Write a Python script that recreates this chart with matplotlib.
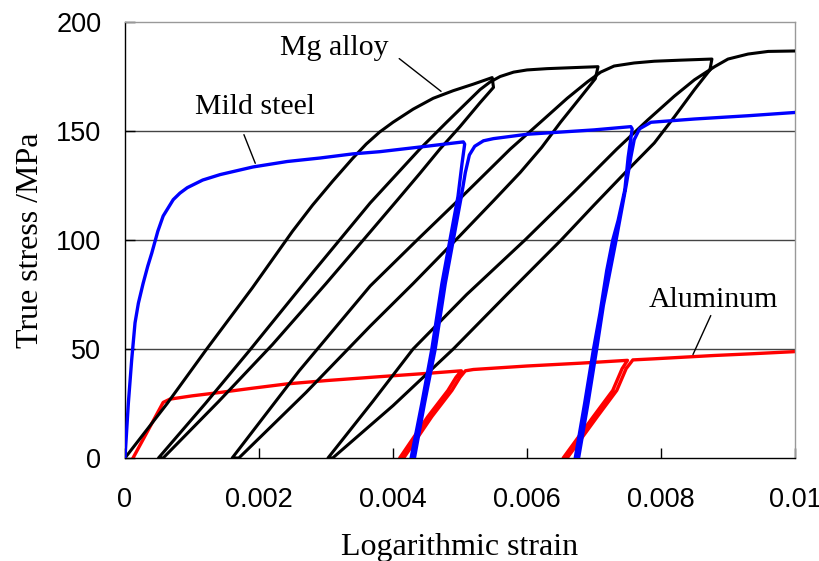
import matplotlib.pyplot as plt

# Mild steel: first loading, unload/reload at ~0.005 and ~0.0075
steel_strain = [0, 0.00005, 0.0001, 0.00015, 0.0002, 0.00027, 0.00034, 0.0004, 0.00049, 0.00057,
                0.00065, 0.00072, 0.00082, 0.00093, 0.00116, 0.00142, 0.00191, 0.00242, 0.00291,
                0.0034, 0.0038, 0.0045, 0.00505,
                0.00507, 0.00503, 0.00497, 0.00485, 0.00473, 0.00458, 0.00443, 0.00427,
                0.00432, 0.00447, 0.00463, 0.00478, 0.0049, 0.00502, 0.00508, 0.00514, 0.00522,
                0.00535, 0.0055, 0.0057, 0.006, 0.0065, 0.007, 0.00755,
                0.00757, 0.00751, 0.00746, 0.00736, 0.00728, 0.00719, 0.00709, 0.00699, 0.00686, 0.00672,
                0.00677, 0.00691, 0.00704, 0.00714, 0.00733, 0.00748, 0.00755, 0.0076, 0.00768,
                0.00785, 0.0085, 0.0093, 0.01]
steel_stress = [0, 25, 45, 62, 71, 80, 88, 94, 104, 111,
                115, 118.5, 121.5, 124, 127.5, 130, 133.5, 136, 137.6,
                139.5, 140.5, 143, 145,
                144, 135, 120, 100, 80, 50, 25, 0,
                0, 25, 50, 80, 100, 120, 131, 139, 143,
                145.5, 146.5, 147.3, 148.5, 149.5, 150.5, 152,
                151, 138, 123, 109, 100, 86, 66.5, 49.5, 25, 0,
                0, 25, 50, 70, 100, 125, 138, 146, 151,
                154, 155.5, 157, 158.5]

# Aluminum: first loading, unload/reload at ~0.005 and ~0.0075
al_strain = [0.00012, 0.00035, 0.00057, 0.00067, 0.001, 0.0014, 0.0019, 0.00242, 0.003,
             0.0038, 0.0045, 0.00502,
             0.00494, 0.00482, 0.00452, 0.0041,
             0.00416, 0.00458, 0.00488, 0.005, 0.00508, 0.0052, 0.006, 0.0068, 0.0075,
             0.00742, 0.00728, 0.00699, 0.00654,
             0.0066, 0.00705, 0.00734, 0.00748, 0.00758, 0.0079, 0.00878, 0.00935, 0.01]
al_stress = [0, 13, 25.5, 27, 28.5, 30, 32, 34, 35.5,
             37.3, 38.8, 40,
             37, 31, 19, 0,
             0, 19, 31, 37, 40, 40.6, 42.2, 43.5, 44.8,
             41, 31, 19, 0,
             0, 19, 31, 41, 45, 45.5, 47, 47.8, 48.8]

# Mg alloy: loading with three unload/reload loops
mg_strain = [0, 0.00063, 0.00122, 0.0019, 0.0025, 0.0028, 0.0031, 0.0034, 0.0036, 0.0038,
             0.004, 0.0043, 0.0046, 0.0049, 0.0052, 0.00548,
             0.0055, 0.0053, 0.005, 0.0047, 0.0044, 0.00407, 0.00366, 0.003, 0.0022, 0.0014, 0.00057,
             0.0005, 0.0012, 0.00185, 0.0028, 0.00366, 0.0044, 0.0048, 0.0051, 0.0053, 0.00545,
             0.0056, 0.0058, 0.006, 0.0063, 0.0068, 0.00706,
             0.00702, 0.0068, 0.0065, 0.00622, 0.0059, 0.0055, 0.005, 0.0043, 0.00366, 0.0027, 0.0017,
             0.0016, 0.0026, 0.00366, 0.00436, 0.005, 0.00575, 0.0062, 0.0066, 0.0069, 0.0071,
             0.0073, 0.0076, 0.0079, 0.0083, 0.00876,
             0.00873, 0.0085, 0.0082, 0.0079, 0.0075, 0.007, 0.00651, 0.0057, 0.0049, 0.004, 0.0031,
             0.00303, 0.0037, 0.0043, 0.0051, 0.00597, 0.0067, 0.00734, 0.0078, 0.0082, 0.0085,
             0.0088, 0.009, 0.0093, 0.0096, 0.01]
mg_stress = [0, 25, 50, 78, 104, 116, 127, 137.5, 144, 149.5,
             154, 160, 165, 168.5, 171.5, 174.5,
             170, 163, 152, 141.7, 130.5, 118.5, 103.7, 80, 52, 26, 0,
             0, 25, 49, 85, 117, 141.7, 154, 163, 169, 172.5,
             175, 177, 178, 178.6, 179.2, 179.5,
             174, 165.5, 154, 142.5, 131, 118, 102, 80, 60.5, 30, 0,
             0, 40, 78.9, 100, 119, 141.7, 154, 165, 172.5, 177,
             179.8, 181.2, 182, 182.5, 183,
             178, 169, 156.5, 144.5, 132, 116, 100, 75, 50, 24, 0,
             0, 26, 50, 75, 100, 122, 141.7, 155, 166, 173.5,
             179.5, 183, 185.3, 186.5, 186.7]

x_ticks = [0, 0.002, 0.004, 0.006, 0.008, 0.01]
x_labels = ['0', '0.002', '0.004', '0.006', '0.008', '0.01']
y_ticks = [0, 50, 100, 150, 200]

SERIF = 'Liberation Serif'
SANS = 'Liberation Sans'


def main():
    fig = plt.figure(figsize=(8.19, 5.61), dpi=100)
    ax = fig.add_axes([0.1526, 0.1836, 0.8181, 0.7772])

    for v in y_ticks[1:-1]:
        ax.axhline(v, color='#444444', lw=1, zorder=1)

    ax.plot(mg_strain, mg_stress, color='black', lw=2.2, zorder=3)
    ax.plot(steel_strain, steel_stress, color='blue', lw=2.4, zorder=4)
    ax.plot(al_strain, al_stress, color='red', lw=2.4, zorder=2)

    ax.set_xlim(0, 0.01)
    ax.set_ylim(0, 200)
    ax.set_xticks(x_ticks)
    ax.set_xticklabels(x_labels, fontname=SANS, fontsize=19.5)
    ax.set_yticks(y_ticks)
    ax.set_yticklabels([str(v) for v in y_ticks], fontname=SANS, fontsize=19.5)
    ax.tick_params(axis='x', direction='in', length=7, width=1, pad=21)
    ax.tick_params(axis='y', direction='in', length=7, width=1, pad=17)

    for side in ['top', 'right']:
        ax.spines[side].set_color('#999999')
    for side in ['left', 'bottom']:
        ax.spines[side].set_color('black')
    for s in ax.spines.values():
        s.set_linewidth(1)

    ax.set_xlabel('Logarithmic strain', fontname=SERIF, fontsize=23)
    ax.xaxis.set_label_coords(0.5, -0.172)
    ax.set_ylabel('True stress /MPa', fontname=SERIF, fontsize=23)
    ax.yaxis.set_label_coords(-0.12, 0.5)

    # material labels with leader lines
    ax.text(0.00313, 188, 'Mg alloy', fontname=SERIF, fontsize=21.5, ha='center', va='center')
    ax.annotate('', xy=(0.00475, 167.4), xytext=(0.00406, 184),
                arrowprops=dict(arrowstyle='-', lw=1, color='black'))
    ax.text(0.00194, 161, 'Mild steel', fontname=SERIF, fontsize=21.5, ha='center', va='center')
    ax.annotate('', xy=(0.00196, 134), xytext=(0.00176, 149.5),
                arrowprops=dict(arrowstyle='-', lw=1, color='black'))
    ax.text(0.00878, 72.5, 'Aluminum', fontname=SERIF, fontsize=21.5, ha='center', va='center')
    ax.annotate('', xy=(0.00846, 46.3), xytext=(0.00876, 66.5),
                arrowprops=dict(arrowstyle='-', lw=1, color='black'))

    fig.savefig('out.png', dpi=100)


if __name__ == "__main__":
    main()
